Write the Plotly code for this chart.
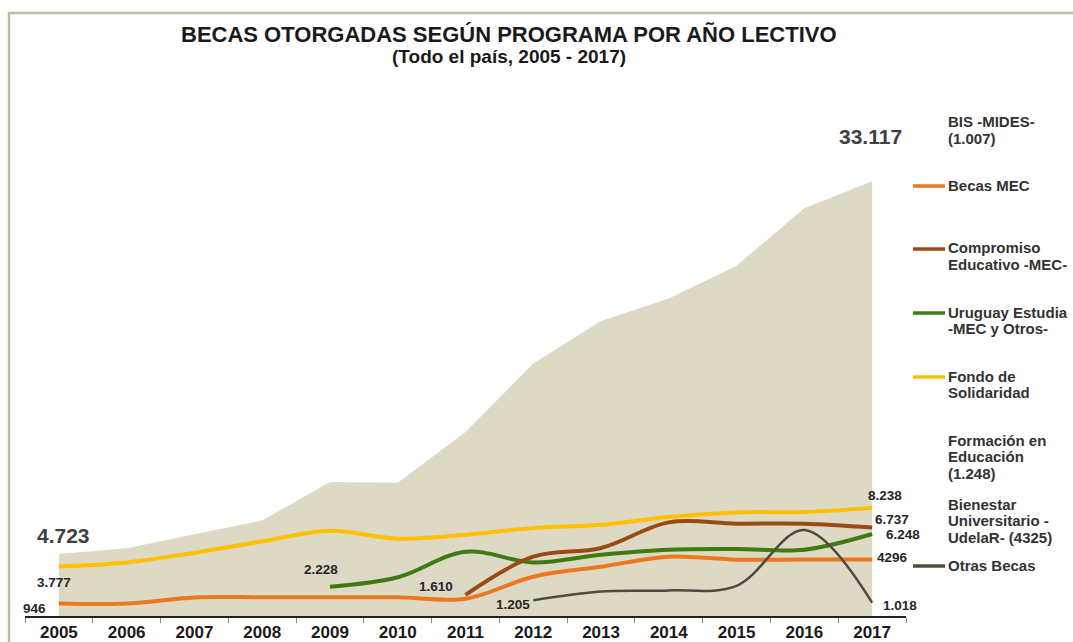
import plotly.graph_objects as go

# ---------------- data ----------------
years = [str(y) for y in range(2005, 2018)]
total = [4723, 5168, 6221, 7275, 10206, 10150, 14023, 19237, 22468, 24198, 26692, 31069, 33117]
becas_mec = [946, 946, 1417, 1430, 1430, 1430, 1318, 2995, 3757, 4519, 4290, 4296, 4296]
compromiso = [None, None, None, None, None, None, 1610, 4519, 5182, 7133, 7033, 7033, 6737]
uruguay_estudia = [None, None, None, None, 2228, 2950, 4900, 4085, 4671, 5052, 5105, 5052, 6248]
fondo = [3777, 4084, 4824, 5685, 6500, 5890, 6195, 6706, 6957, 7544, 7895, 7925, 8238]
otras = [None, None, None, None, None, None, None, 1205, 1875, 1951, 2300, 6550, 1018]

# ---------------- layout constants ----------------
W, H = 1073, 642
ML, MR, MT, MB = 25, 167, 91, 26
PW, PH = W - ML - MR, H - MT - MB
FONT = "Liberation Sans, Arial, sans-serif"

def px_x(px):
    return (px - ML) / PW

def px_y(py):
    return (H - MB - py) / PH

C_AREA = "#DDD9C4"
C_ORANGE = "#EB7820"
C_BROWN = "#9A4B14"
C_GREEN = "#3E7B10"
C_YELLOW = "#FFC000"
C_GRAY = "#4D4D3D"

fig = go.Figure()

fig.add_trace(go.Scatter(x=years, y=total, mode="lines", fill="tozeroy",
                         line=dict(color=C_AREA, width=0), fillcolor=C_AREA,
                         showlegend=False, hoverinfo="skip", name="Total"))

line_specs = [
    ("Fondo de Solidaridad", fondo, C_YELLOW, 4),
    ("Uruguay Estudia -MEC y Otros-", uruguay_estudia, C_GREEN, 4),
    ("Compromiso Educativo -MEC-", compromiso, C_BROWN, 4),
    ("Becas MEC", becas_mec, C_ORANGE, 4),
    ("Otras Becas", otras, C_GRAY, 2.5),
]
for name, vals, col, w in line_specs:
    fig.add_trace(go.Scatter(x=years, y=vals, mode="lines", name=name,
                             line=dict(color=col, width=w, shape="spline", smoothing=1.0),
                             showlegend=False))

annotations = []

# title
annotations.append(dict(text="BECAS OTORGADAS SEGÚN PROGRAMA POR AÑO LECTIVO",
                        x=px_x(509), y=px_y(35), xref="paper", yref="paper",
                        showarrow=False, xanchor="center", yanchor="middle",
                        font=dict(family=FONT, size=22, color="#1a1a1a", weight="bold")))
annotations.append(dict(text="(Todo el país, 2005 - 2017)",
                        x=px_x(509), y=px_y(57), xref="paper", yref="paper",
                        showarrow=False, xanchor="center", yanchor="middle",
                        font=dict(family=FONT, size=19, color="#1a1a1a", weight="bold")))

# data labels: (series, index, text, xshift, yshift, size)
data_labels = [
    (total, 0, "4.723", 5, 19, 21),
    (total, 12, "33.117", -2, 45, 21),
    (fondo, 0, "3.777", -5, -16, 13.5),
    (becas_mec, 0, "946", -24, -5, 13.5),
    (uruguay_estudia, 4, "2.228", -9, 17, 13.5),
    (compromiso, 6, "1.610", -30, 8, 13.5),
    (otras, 7, "1.205", -20, -4, 13.5),
    (fondo, 12, "8.238", 13, 12, 13.5),
    (compromiso, 12, "6.737", 20, 8, 13.5),
    (uruguay_estudia, 12, "6.248", 31, 0, 13.5),
    (becas_mec, 12, "4296", 20, 2, 13.5),
    (otras, 12, "1.018", 28, -3, 13.5),
]
for vals, i, txt, dx, dy, sz in data_labels:
    # category axis: annotation x is the category's serial number
    annotations.append(dict(text=txt, x=i, y=vals[i], xref="x", yref="y",
                            showarrow=False, xanchor="center", yanchor="middle",
                            xshift=dx, yshift=dy, borderpad=0,
                            font=dict(family=FONT, size=sz,
                                      color="#404040" if sz > 16 else "#262626",
                                      weight="bold")))

# legend (custom): lines of text, y of first line in px, colour or None
legend_items = [
    (["BIS -MIDES-", "(1.007)"], 122, None),
    (["Becas MEC"], 185, C_ORANGE),
    (["Compromiso", "Educativo -MEC-"], 248, C_BROWN),
    (["Uruguay Estudia", "-MEC y Otros-"], 312, C_GREEN),
    (["Fondo de", "Solidaridad"], 376, C_YELLOW),
    (["Formación en", "Educación", "(1.248)"], 440, None),
    (["Bienestar", "Universitario -", "UdelaR- (4325)"], 504, None),
    (["Otras Becas"], 565, C_GRAY),
]
shapes = []
for lines, y0, col in legend_items:
    for k, ln in enumerate(lines):
        annotations.append(dict(text=ln, x=px_x(946), y=px_y(y0 + k * 16.5),
                                xref="paper", yref="paper", showarrow=False,
                                xanchor="left", yanchor="middle",
                                font=dict(family=FONT, size=15, color="#333333", weight="bold")))
    if col:
        shapes.append(dict(type="line", xref="paper", yref="paper",
                           x0=px_x(913), x1=px_x(945), y0=px_y(y0 + 1), y1=px_y(y0 + 1),
                           line=dict(color=col, width=3.5)))

# frame
shapes.append(dict(type="rect", xref="paper", yref="paper",
                   x0=px_x(9), x1=px_x(1090), y0=px_y(660), y1=px_y(13),
                   line=dict(color="#B4BEA2", width=2.5), fillcolor="rgba(0,0,0,0)", layer="below"))

fig.update_layout(
    width=W, height=H,
    margin=dict(l=ML, r=MR, t=MT, b=MB, autoexpand=False),
    paper_bgcolor="white", plot_bgcolor="white",
    showlegend=False,
    annotations=annotations,
    shapes=shapes,
    xaxis=dict(type="category", range=[-0.5, 12.5], showgrid=False, zeroline=False,
               automargin=False,
               showline=True, linecolor="#222222", linewidth=1.5,
               ticks="outside", tickson="boundaries", ticklen=5, tickcolor="#888888",
               tickfont=dict(family=FONT, size=17, color="#1a1a1a", weight="bold"),
               ticklabelstandoff=0),
    yaxis=dict(range=[0, 40000], showgrid=False, zeroline=False, showline=False,
               showticklabels=False, ticks="", automargin=False),
)

fig.write_html("out.html", config={"displayModeBar": False},
               post_script="document.body.style.margin='0';document.body.style.overflow='hidden';")
